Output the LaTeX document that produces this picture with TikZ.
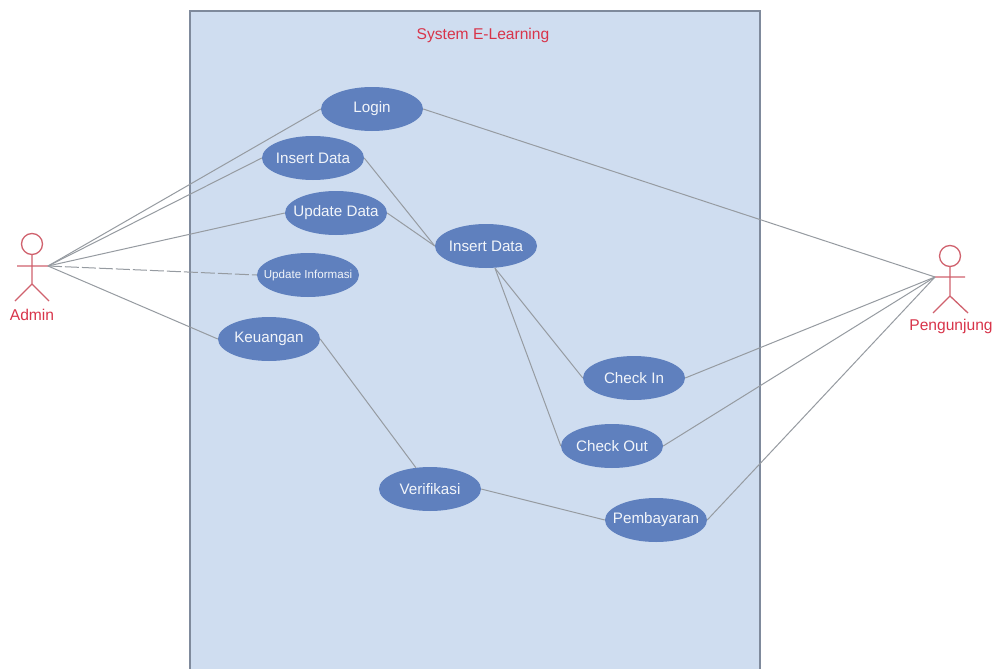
\documentclass[tikz,border=0pt]{standalone}
\usepackage{fontspec}
\setmainfont{Liberation Sans}
\usetikzlibrary{shapes.geometric}
\definecolor{sysfill}{HTML}{CFDDF0}
\definecolor{sysedge}{HTML}{7F8A9C}
\definecolor{ucfill}{HTML}{5F80BE}
\definecolor{linkc}{HTML}{969BA1}
\definecolor{actorc}{HTML}{D0626E}
\definecolor{labelc}{HTML}{D8344A}
\newcommand\uctext[1]{\makebox[0pt]{\raisebox{-1pt}{#1}}}
\tikzset{
  usecase/.style={ellipse,fill=ucfill,draw=none,minimum width=102pt,minimum height=44pt,inner sep=0pt,text=white!92!ucfill,font=\fontsize{15.2}{17}\selectfont},
  link/.style={draw=linkc,line width=1pt},
  actorline/.style={draw=actorc,line width=1.3pt},
  actorlabel/.style={text=labelc,font=\fontsize{15.6}{17}\selectfont,inner sep=0pt},
}
\begin{document}
\begin{tikzpicture}[x=1pt,y=-1pt]
\useasboundingbox (0,0) rectangle (996,669);
\fill[white] (0,0) rectangle (996,669);
\fill[sysfill] (190,11) rectangle (760,669);
\draw[sysedge,line width=1.5pt] (190,669) -- (190,11) -- (760,11) -- (760,669);
\node[text=labelc,font=\fontsize{15.6}{17}\selectfont,inner sep=0pt] (title) at (483,35) {System E-Learning};

\node[usecase] (login) at (372,109) {\uctext{Login}};
\node[usecase] (ins1) at (313,158) {\uctext{Insert Data}};
\node[usecase] (upd) at (336,213) {\uctext{Update Data}};
\node[usecase,font=\fontsize{11.6}{13}\selectfont] (info) at (308,275) {\uctext{Update Informasi}};
\node[usecase] (keu) at (269,339) {\uctext{Keuangan}};
\node[usecase] (ins2) at (486,246) {\uctext{Insert Data}};
\node[usecase] (cin) at (634,378) {\uctext{Check In}};
\node[usecase] (cout) at (612,446) {\uctext{Check Out}};
\node[usecase] (ver) at (430,489) {\uctext{Verifikasi}};
\node[usecase] (pay) at (656,520) {\uctext{Pembayaran}};

% Admin actor
\node[circle,draw=actorc,line width=1.3pt,minimum size=21pt,inner sep=0pt] (ah) at (32,244) {};
\coordinate (ahl) at (17,266);
\coordinate (ahr) at (48,266);
\coordinate (ac) at (32,284);
\coordinate (all) at (15,301);
\coordinate (alr) at (49,301);
\draw[actorline] (ah.south) -- (ac) (ahl) -- (ahr) (all) -- (ac) -- (alr);
\node[actorlabel] (adm) at (32,315) {Admin};

% Pengunjung actor
\node[circle,draw=actorc,line width=1.3pt,minimum size=21pt,inner sep=0pt] (ph) at (950,256) {};
\coordinate (phl) at (935,277);
\coordinate (phr) at (965,277);
\coordinate (pc) at (950,296);
\coordinate (pll) at (933,313);
\coordinate (plr) at (968,313);
\draw[actorline] (ph.south) -- (pc) (phl) -- (phr) (pll) -- (pc) -- (plr);
\node[actorlabel] (pen) at (951,326) {Pengunjung};

% connectors
\draw[link] (ahr) -- (login.west);
\draw[link] (ahr) -- (ins1.west);
\draw[link] (ahr) -- (upd.west);
\draw[link,dash pattern=on 14pt off 3pt] (ahr) -- (info.west);
\draw[link] (ahr) -- (keu.west);
\draw[link] (ins1.east) -- (ins2.west);
\draw[link] (upd.east) -- (ins2.west);
\path (ins2.south) ++(9,0) coordinate (i2s);
\draw[link] (i2s) -- (cin.west);
\draw[link] (i2s) -- (cout.west);
\path (ver.north) ++(-14,1) coordinate (vtop);
\draw[link] (keu.east) -- (vtop);
\draw[link] (ver.east) -- (pay.west);
\draw[link] (login.east) -- (phl);
\draw[link] (cin.east) -- (phl);
\draw[link] (cout.east) -- (phl);
\draw[link] (pay.east) -- (phl);
\end{tikzpicture}
\end{document}
